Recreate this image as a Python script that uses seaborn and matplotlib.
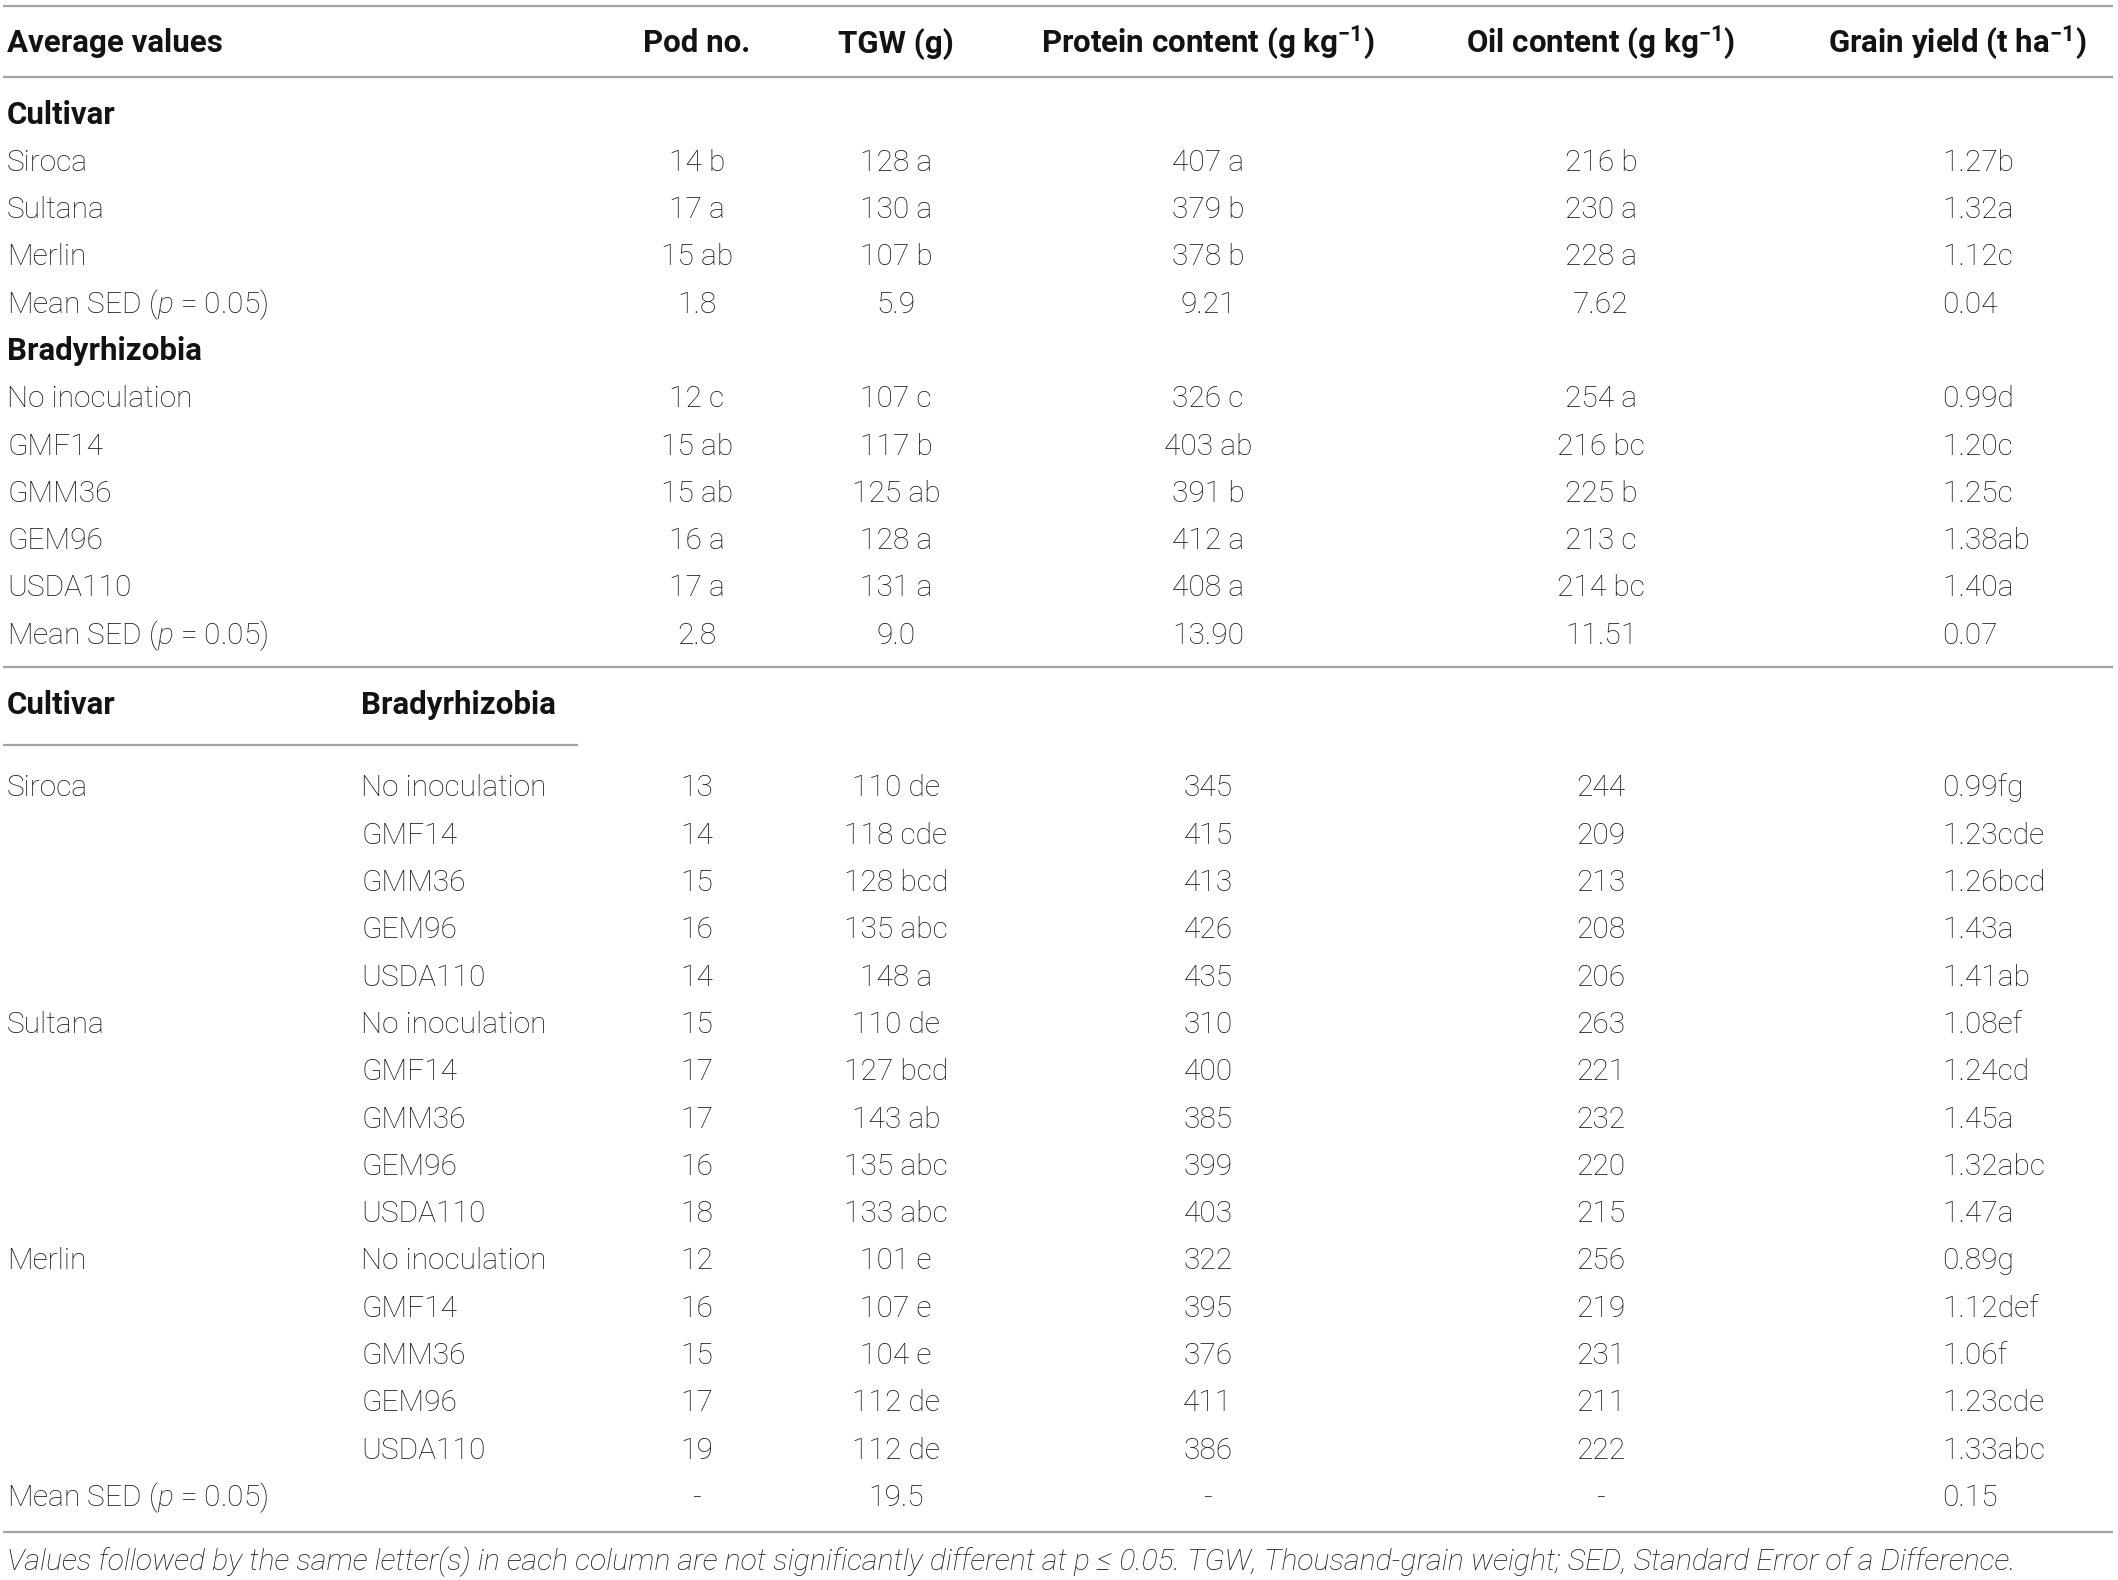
import matplotlib
matplotlib.use("Agg")
import matplotlib.pyplot as plt
import seaborn as sns

# header
col_heads = ["Pod no.", "TGW (g)", r"Protein content (g kg$^{\mathbf{-1}}$)",
             r"Oil content (g kg$^{\mathbf{-1}}$)", r"Grain yield (t ha$^{\mathbf{-1}}$)"]

cultivars = ["Siroca", "Sultana", "Merlin"]
strains = ["No inoculation", "GMF14", "GMM36", "GEM96", "USDA110"]
sed_label = r"Mean SED ($\mathit{p}$ = 0.05)"

# cultivar main effect (last item = mean SED)
cult_pod = ["14 b", "17 a", "15 ab", "1.8"]
cult_tgw = ["128 a", "130 a", "107 b", "5.9"]
cult_protein = ["407 a", "379 b", "378 b", "9.21"]
cult_oil = ["216 b", "230 a", "228 a", "7.62"]
cult_yield = ["1.27b", "1.32a", "1.12c", "0.04"]

# bradyrhizobia main effect
brad_pod = ["12 c", "15 ab", "15 ab", "16 a", "17 a", "2.8"]
brad_tgw = ["107 c", "117 b", "125 ab", "128 a", "131 a", "9.0"]
brad_protein = ["326 c", "403 ab", "391 b", "412 a", "408 a", "13.90"]
brad_oil = ["254 a", "216 bc", "225 b", "213 c", "214 bc", "11.51"]
brad_yield = ["0.99d", "1.20c", "1.25c", "1.38ab", "1.40a", "0.07"]

# interaction cultivar x bradyrhizobia
int_pod = ["13", "14", "15", "16", "14",
           "15", "17", "17", "16", "18",
           "12", "16", "15", "17", "19", "-"]
int_tgw = ["110 de", "118 cde", "128 bcd", "135 abc", "148 a",
           "110 de", "127 bcd", "143 ab", "135 abc", "133 abc",
           "101 e", "107 e", "104 e", "112 de", "112 de", "19.5"]
int_protein = ["345", "415", "413", "426", "435",
               "310", "400", "385", "399", "403",
               "322", "395", "376", "411", "386", "-"]
int_oil = ["244", "209", "213", "208", "206",
           "263", "221", "232", "220", "215",
           "256", "219", "231", "211", "222", "-"]
int_yield = ["0.99fg", "1.23cde", "1.26bcd", "1.43a", "1.41ab",
             "1.08ef", "1.24cd", "1.45a", "1.32abc", "1.47a",
             "0.89g", "1.12def", "1.06f", "1.23cde", "1.33abc", "0.15"]

footnote = ("Values followed by the same letter(s) in each column are not significantly different at "
            "p \u2264 0.05. TGW, Thousand-grain weight; SED, Standard Error of a Difference.")

sns.set_theme(style="white")
plt.rcParams["font.family"] = ["Roboto", "DejaVu Sans"]
plt.rcParams["mathtext.fontset"] = "custom"
plt.rcParams["mathtext.rm"] = "Roboto:light"
plt.rcParams["mathtext.it"] = "Roboto:italic:light"
plt.rcParams["mathtext.bf"] = "Roboto:bold"

W, H = 2118, 1580
fig = plt.figure(figsize=(W / 100, H / 100), dpi=100)
ax = fig.add_axes([0, 0, 1, 1])
ax.set_xlim(0, W)
ax.set_ylim(H, 0)
ax.axis("off")

txt = "#151213"
line_c = "#a3a3a3"
fs = 21.5
fs_head = 22.5
base = 10.5  # baseline offset from row centre

x_left = 7
x_brad = 361
x_cols = [697, 896, 1208, 1601, 1942]
x_yield_head = 1957
pitch = 47.3


def put(x, yc, s, ha="left", bold=False, size=None, style="normal"):
    if size is None:
        size = fs_head if bold else fs
    ax.text(x, yc + base, s, ha=ha, va="baseline", fontsize=size, color=txt,
            fontweight="bold" if bold else "light", fontstyle=style)


def row_values(yc, vals):
    for i, v in enumerate(vals):
        put(x_cols[i], yc, v, ha="left" if i == 4 else "center")


# rules
for y in [6, 77, 667, 1532]:
    ax.hlines(y, 3, 2113, color=line_c, lw=1.6)
ax.hlines(745, 3, 578, color=line_c, lw=1.6)

# header
put(x_left, 42, "Average values", bold=True)
for i, h in enumerate(col_heads):
    put(x_yield_head if i == 4 else x_cols[i], 42, h, ha="center", bold=True)

# cultivar block
y = 113
put(x_left, y, "Cultivar", bold=True)
cult_cols = [cult_pod, cult_tgw, cult_protein, cult_oil, cult_yield]
for r, name in enumerate(cultivars + [sed_label]):
    y += pitch
    put(x_left, y, name)
    row_values(y, [c[r] for c in cult_cols])

# bradyrhizobia block
y += pitch
put(x_left, y, "Bradyrhizobia", bold=True)
brad_cols = [brad_pod, brad_tgw, brad_protein, brad_oil, brad_yield]
for r, name in enumerate(strains + [sed_label]):
    y += pitch
    put(x_left, y, name)
    row_values(y, [c[r] for c in brad_cols])

# interaction block
put(x_left, 703, "Cultivar", bold=True)
put(x_brad, 703, "Bradyrhizobia", bold=True)
int_cols = [int_pod, int_tgw, int_protein, int_oil, int_yield]
y = 786
r = 0
for c_name in cultivars:
    for k, s_name in enumerate(strains):
        if k == 0:
            put(x_left, y, c_name)
        put(x_brad, y, s_name)
        row_values(y, [c[r] for c in int_cols])
        r += 1
        y += pitch
put(x_left, y, sed_label)
row_values(y, [c[r] for c in int_cols])

put(x_left, 1560, footnote, size=21.8, style="italic")

fig.savefig("out.png", dpi=100, facecolor="white")
